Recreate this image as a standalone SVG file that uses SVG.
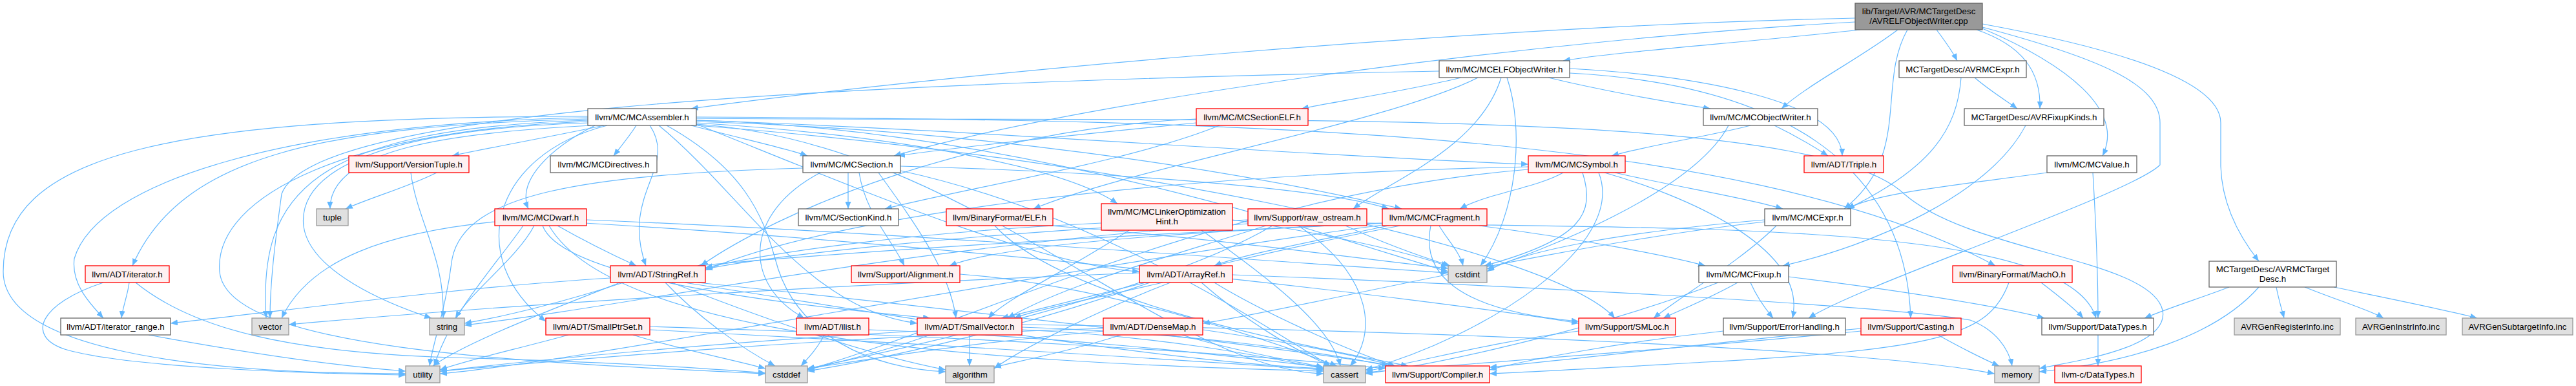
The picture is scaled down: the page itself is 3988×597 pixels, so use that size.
<svg xmlns="http://www.w3.org/2000/svg" width="3988" height="597" viewBox="0 0 3988 597">
<style>
text{font-family:"Liberation Sans",Arial,sans-serif;font-size:13.3px;text-anchor:middle;fill:#000}
.n rect{fill:#fff;stroke:#666;stroke-width:1.3}
.r rect{fill:#fff0f0;stroke:#f00;stroke-width:1.3}
.g rect{fill:#e0e0e0;stroke:#999;stroke-width:1.3}
.root rect{fill:#999;stroke:#666;stroke-width:1.3}
#edges path{fill:none;stroke:#63b8ff;stroke-width:1.2;marker-end:url(#a)}
</style>
<defs>
<marker id="a" markerWidth="11" markerHeight="9" refX="11" refY="4.5" orient="auto" markerUnits="userSpaceOnUse"><path d="M0,0 L11,4.5 L0,9 z" fill="#63b8ff"/></marker>
</defs>
<rect width="3988" height="597" fill="#fff"/>
<g id="edges">
<path d="M2880,46 C2700,66 2500,80 2420,94"/>
<path d="M2998,46 C3010,62 3022,78 3030,94"/>
<path d="M2938,46 C2880,90 2800,130 2758,168"/>
<path d="M3060,46 C3130,70 3160,110 3158,168"/>
<path d="M3069,44 C3200,100 3290,170 3255,241"/>
<path d="M3069,37 C3250,70 3438,120 3438,190 L3438,257 C3440,320 3470,370 3497,404"/>
<path d="M3069,42 C3250,90 3344,130 3344,190 L3344,255 C3300,300 2880,440 2800,492"/>
<path d="M2953,46 C2905,130 2960,240 2855,323"/>
<path d="M2872,28 C2300,40 1500,110 1070,168"/>
<path d="M2872,34 C2400,60 1700,150 1384,241"/>
<path d="M2262,120 C2180,140 2080,155 2015,168"/>
<path d="M2397,120 C2480,140 2580,158 2648,168"/>
<path d="M2333,120 C2360,200 2350,330 2292,411"/>
<path d="M2324,120 C2290,230 2150,280 2095,323"/>
<path d="M2288,120 C2150,190 1750,260 1600,323"/>
<path d="M2228,110 C1200,130 480,175 436,300 C425,380 418,440 418,492"/>
<path d="M2430,106 C2600,115 2850,150 2852,241"/>
<path d="M2430,113 C2750,130 2950,250 2958,492"/>
<path d="M3057,120 C3080,140 3105,155 3123,168"/>
<path d="M3036,120 C3030,200 2990,260 2860,323"/>
<path d="M2747,194 C2780,210 2810,228 2830,241"/>
<path d="M2710,194 C2650,210 2550,225 2495,241"/>
<path d="M2676,194 C2620,300 2380,390 2302,416"/>
<path d="M3136,194 C3080,300 2900,380 2760,411"/>
<path d="M1852,190 C1700,205 1500,225 1390,241"/>
<path d="M1888,194 C1750,250 1500,290 1370,323"/>
<path d="M1852,184 C1500,200 1200,330 1085,411"/>
<path d="M935,194 C860,210 760,228 700,241"/>
<path d="M985,194 C975,210 960,228 950,241"/>
<path d="M921,194 C850,230 800,280 818,323"/>
<path d="M1006,194 C1050,260 960,300 1000,411"/>
<path d="M940,194 C760,240 720,400 845,497"/>
<path d="M910,184 C500,195 280,240 205,411"/>
<path d="M910,182 C450,190 150,280 115,400 C110,440 140,470 160,492"/>
<path d="M910,180 C250,180 5,240 5,420 C5,540 300,578 628,578"/>
<path d="M910,186 C480,200 400,300 412,492"/>
<path d="M915,194 C700,205 510,230 511,323"/>
<path d="M912,190 C600,200 460,260 470,350 C480,420 600,470 668,492"/>
<path d="M910,188 C550,200 330,300 340,420 C350,540 800,560 1185,578"/>
<path d="M1032,194 C1150,260 1180,330 1200,400 C1230,520 1350,570 1464,575"/>
<path d="M1020,194 C1150,300 1250,480 1420,500"/>
<path d="M1078,192 C1500,220 1800,570 2049,578"/>
<path d="M1078,186 C1600,200 2100,380 2242,420"/>
<path d="M1078,183 C1900,190 2800,160 2948,300 C3050,390 3330,400 3348,480 C3360,540 3200,560 3157,570"/>
<path d="M1078,181 C1900,185 2700,200 3089,411"/>
<path d="M1078,194 C1700,240 2400,380 2500,492"/>
<path d="M1078,188 C1500,200 1900,260 2170,323"/>
<path d="M1078,190 C1400,210 1650,260 1730,315"/>
<path d="M1078,192 C1300,280 1600,410 1764,420"/>
<path d="M1078,186 C1500,200 2000,240 2366,254"/>
<path d="M1070,194 C1150,215 1220,230 1250,241"/>
<path d="M676,267 C630,290 575,305 535,323"/>
<path d="M636,267 C645,340 690,400 686,492"/>
<path d="M1313,267 C1313,290 1313,300 1313,323"/>
<path d="M1270,267 C1150,330 1150,440 1245,492"/>
<path d="M1394,257 C1700,265 2050,290 2150,323"/>
<path d="M1330,267 C1340,330 1380,370 1400,411"/>
<path d="M1360,267 C1420,350 1470,420 1480,492"/>
<path d="M1394,264 C1700,330 1950,500 2060,566"/>
<path d="M1243,260 C900,270 720,300 700,400 C690,480 670,530 665,566"/>
<path d="M2420,267 C2380,290 2300,300 2260,323"/>
<path d="M2500,267 C2600,290 2700,305 2760,323"/>
<path d="M2484,267 C2600,300 2800,380 2775,492"/>
<path d="M2450,267 C2470,330 2450,370 2298,411"/>
<path d="M2475,267 C2520,380 2300,520 2114,572"/>
<path d="M2366,262 C1900,300 1500,500 1250,572"/>
<path d="M2366,258 C1800,270 1300,330 1092,418"/>
<path d="M3169,267 C3000,290 2900,300 2860,323"/>
<path d="M3240,267 C3245,350 3248,420 3248,492"/>
<path d="M863,349 C900,370 950,395 985,411"/>
<path d="M827,349 C800,400 730,450 705,492"/>
<path d="M766,343 C600,360 480,400 436,492"/>
<path d="M810,349 C760,420 700,480 672,566"/>
<path d="M840,349 C870,430 1200,470 1440,492"/>
<path d="M850,349 C950,520 1500,560 2049,574"/>
<path d="M908,340 C1400,360 1900,400 2242,422"/>
<path d="M905,345 C1500,380 2200,460 2444,500"/>
<path d="M1626,349 C1900,370 2100,400 2242,415"/>
<path d="M1540,349 C1650,470 2050,540 2180,566"/>
<path d="M1748,356 C1650,420 1560,460 1530,492"/>
<path d="M1705,345 C1400,360 1200,390 1092,414"/>
<path d="M1860,356 C1950,420 2060,500 2075,566"/>
<path d="M1908,340 C2050,360 2180,390 2242,412"/>
<path d="M1960,349 C1800,400 1650,440 1560,492"/>
<path d="M1932,340 C1500,360 1200,395 1092,416"/>
<path d="M2116,345 C2600,355 3200,340 3245,492"/>
<path d="M2010,349 C2130,430 2130,520 2090,566"/>
<path d="M1970,349 C1800,450 1400,540 1250,570"/>
<path d="M2083,349 C2150,380 2210,400 2245,411"/>
<path d="M1932,346 C1400,380 1000,470 719,503"/>
<path d="M2228,349 C2240,370 2260,390 2265,411"/>
<path d="M2215,349 C2200,420 2250,480 2444,497"/>
<path d="M2290,349 C2450,370 2580,395 2640,411"/>
<path d="M2150,349 C2000,380 1920,395 1880,411"/>
<path d="M2168,349 C1900,400 1650,470 1550,492"/>
<path d="M2140,345 C1600,370 1250,395 1080,411"/>
<path d="M2150,345 C1800,360 1550,380 1470,411"/>
<path d="M2140,348 C1600,420 900,560 681,578"/>
<path d="M2732,343 C2400,380 2000,480 1862,500"/>
<path d="M2750,349 C2700,400 2600,460 2560,492"/>
<path d="M2732,340 C2500,360 2350,390 2302,420"/>
<path d="M200,437 C198,455 190,475 188,492"/>
<path d="M160,437 C60,470 40,520 100,540 C200,570 500,578 628,580"/>
<path d="M210,437 C300,510 450,545 700,553 C950,560 1100,570 1185,577"/>
<path d="M945,430 C700,445 450,480 264,500"/>
<path d="M965,437 C880,465 780,490 719,500"/>
<path d="M960,437 C850,480 720,530 670,566"/>
<path d="M1030,437 C1080,490 1150,540 1200,566"/>
<path d="M1040,437 C1200,500 1350,550 1464,572"/>
<path d="M1060,437 C1400,490 1800,560 2049,570"/>
<path d="M1080,437 C1500,480 2000,540 2160,566"/>
<path d="M1486,424 C1700,440 1950,520 2070,566"/>
<path d="M1800,437 C1700,460 1600,480 1570,492"/>
<path d="M1812,437 C1700,480 1580,540 1539,570"/>
<path d="M1908,425 C2300,440 2900,470 3050,495 C3090,510 3110,540 3115,566"/>
<path d="M1880,437 C1950,480 2080,540 2160,566"/>
<path d="M1860,437 C1920,490 2000,540 2060,566"/>
<path d="M1780,437 C1600,500 1400,550 1250,574"/>
<path d="M1764,422 C1300,440 800,470 447,502"/>
<path d="M2710,437 C2720,460 2735,480 2745,492"/>
<path d="M2769,428 C2950,450 3100,475 3165,492"/>
<path d="M2690,437 C2650,460 2600,480 2575,492"/>
<path d="M2660,437 C2500,500 2250,560 2114,578"/>
<path d="M3160,437 C3190,460 3215,480 3225,492"/>
<path d="M3110,437 C3080,520 3000,540 2640,560 C2500,568 2400,574 2306,578"/>
<path d="M3451,444 C3410,460 3360,475 3320,492"/>
<path d="M3497,444 C3430,520 3300,560 3157,575"/>
<path d="M3524,444 C3528,465 3533,480 3536,492"/>
<path d="M3568,444 C3620,465 3670,480 3690,492"/>
<path d="M3613,444 C3700,462 3790,480 3835,492"/>
<path d="M2668,512 C2500,530 2350,560 2306,572"/>
<path d="M3000,518 C3040,540 3070,555 3095,566"/>
<path d="M2881,512 C2600,540 2300,560 2114,576"/>
<path d="M2881,508 C2650,530 2400,560 2306,568"/>
<path d="M2444,512 C2300,530 2200,560 2114,574"/>
<path d="M3248,518 L3248,566"/>
<path d="M230,518 C350,540 500,565 628,574"/>
<path d="M880,518 C800,540 730,555 681,572"/>
<path d="M980,518 C1050,540 1130,555 1185,570"/>
<path d="M1006,510 C1400,530 1800,555 2049,572"/>
<path d="M1006,505 C1500,520 1900,545 2145,570"/>
<path d="M1276,518 C1265,540 1250,555 1240,566"/>
<path d="M1345,510 C1650,520 1900,550 2049,568"/>
<path d="M1501,518 L1501,566"/>
<path d="M1440,518 C1380,540 1300,560 1250,572"/>
<path d="M1420,512 C1100,530 800,560 681,574"/>
<path d="M1582,510 C1800,520 1950,550 2049,570"/>
<path d="M1582,506 C1850,515 2050,545 2150,566"/>
<path d="M1582,502 C2200,510 2900,540 3088,578"/>
<path d="M1735,518 C1670,540 1580,558 1539,568"/>
<path d="M1830,518 C1900,540 2000,558 2049,568"/>
<path d="M1862,510 C2000,530 2100,550 2160,566"/>
<path d="M1708,512 C1500,530 1350,555 1250,570"/>
<path d="M1708,508 C1300,520 900,555 681,574"/>
</g>
<g id="root" class="root"><rect x="2872" y="5" width="197" height="41"/><text x="2970.5" y="22">lib/Target/AVR/MCTargetDesc</text><text x="2970.5" y="37">/AVRELFObjectWriter.cpp</text></g>
<g id="MCELFObjectWriter" class="n"><rect x="2228" y="94" width="202" height="26"/><text x="2329" y="112">llvm/MC/MCELFObjectWriter.h</text></g>
<g id="AVRMCExpr" class="n"><rect x="2940" y="94" width="197" height="26"/><text x="3038.5" y="112">MCTargetDesc/AVRMCExpr.h</text></g>
<g id="MCAssembler" class="n"><rect x="910" y="168" width="168" height="26"/><text x="994" y="186">llvm/MC/MCAssembler.h</text></g>
<g id="MCSectionELF" class="r"><rect x="1852" y="168" width="173" height="26"/><text x="1938.5" y="186">llvm/MC/MCSectionELF.h</text></g>
<g id="MCObjectWriter" class="n"><rect x="2637" y="168" width="177" height="26"/><text x="2725.5" y="186">llvm/MC/MCObjectWriter.h</text></g>
<g id="AVRFixupKinds" class="n"><rect x="3041" y="168" width="216" height="26"/><text x="3149" y="186">MCTargetDesc/AVRFixupKinds.h</text></g>
<g id="VersionTuple" class="r"><rect x="540" y="241" width="186" height="26"/><text x="633" y="259">llvm/Support/VersionTuple.h</text></g>
<g id="MCDirectives" class="n"><rect x="852" y="241" width="165" height="26"/><text x="934.5" y="259">llvm/MC/MCDirectives.h</text></g>
<g id="MCSection" class="n"><rect x="1243" y="241" width="151" height="26"/><text x="1318.5" y="259">llvm/MC/MCSection.h</text></g>
<g id="MCSymbol" class="r"><rect x="2366" y="241" width="150" height="26"/><text x="2441" y="259">llvm/MC/MCSymbol.h</text></g>
<g id="Triple" class="r"><rect x="2793" y="241" width="123" height="26"/><text x="2854.5" y="259">llvm/ADT/Triple.h</text></g>
<g id="MCValue" class="n"><rect x="3169" y="241" width="139" height="26"/><text x="3238.5" y="259">llvm/MC/MCValue.h</text></g>
<g id="tuple" class="g"><rect x="490" y="323" width="49" height="26"/><text x="514.5" y="341">tuple</text></g>
<g id="MCDwarf" class="r"><rect x="766" y="323" width="142" height="26"/><text x="837" y="341">llvm/MC/MCDwarf.h</text></g>
<g id="SectionKind" class="n"><rect x="1236" y="323" width="155" height="26"/><text x="1313.5" y="341">llvm/MC/SectionKind.h</text></g>
<g id="ELF" class="r"><rect x="1465" y="323" width="165" height="26"/><text x="1547.5" y="341">llvm/BinaryFormat/ELF.h</text></g>
<g id="MCLinkerOptimizationHint" class="r"><rect x="1705" y="315" width="203" height="41"/><text x="1806.5" y="332">llvm/MC/MCLinkerOptimization</text><text x="1806.5" y="347">Hint.h</text></g>
<g id="raw_ostream" class="r"><rect x="1932" y="323" width="184" height="26"/><text x="2024" y="341">llvm/Support/raw_ostream.h</text></g>
<g id="MCFragment" class="r"><rect x="2140" y="323" width="162" height="26"/><text x="2221" y="341">llvm/MC/MCFragment.h</text></g>
<g id="MCExpr" class="n"><rect x="2732" y="323" width="133" height="26"/><text x="2798.5" y="341">llvm/MC/MCExpr.h</text></g>
<g id="iterator" class="r"><rect x="132" y="411" width="130" height="26"/><text x="197" y="429">llvm/ADT/iterator.h</text></g>
<g id="StringRef" class="r"><rect x="945" y="411" width="147" height="26"/><text x="1018.5" y="429">llvm/ADT/StringRef.h</text></g>
<g id="Alignment" class="r"><rect x="1318" y="411" width="168" height="26"/><text x="1402" y="429">llvm/Support/Alignment.h</text></g>
<g id="ArrayRef" class="r"><rect x="1764" y="411" width="144" height="26"/><text x="1836" y="429">llvm/ADT/ArrayRef.h</text></g>
<g id="cstdint" class="g"><rect x="2242" y="411" width="60" height="26"/><text x="2272" y="429">cstdint</text></g>
<g id="MCFixup" class="n"><rect x="2630" y="411" width="139" height="26"/><text x="2699.5" y="429">llvm/MC/MCFixup.h</text></g>
<g id="MachO" class="r"><rect x="3023" y="411" width="185" height="26"/><text x="3115.5" y="429">llvm/BinaryFormat/MachO.h</text></g>
<g id="AVRMCTargetDesc" class="n"><rect x="3420" y="404" width="197" height="40"/><text x="3518.5" y="421">MCTargetDesc/AVRMCTarget</text><text x="3518.5" y="436">Desc.h</text></g>
<g id="iterator_range" class="n"><rect x="94" y="492" width="170" height="26"/><text x="179" y="510">llvm/ADT/iterator_range.h</text></g>
<g id="vector" class="g"><rect x="390" y="492" width="57" height="26"/><text x="418.5" y="510">vector</text></g>
<g id="string" class="g"><rect x="665" y="492" width="54" height="26"/><text x="692" y="510">string</text></g>
<g id="SmallPtrSet" class="r"><rect x="845" y="492" width="161" height="26"/><text x="925.5" y="510">llvm/ADT/SmallPtrSet.h</text></g>
<g id="ilist" class="r"><rect x="1233" y="492" width="112" height="26"/><text x="1289" y="510">llvm/ADT/ilist.h</text></g>
<g id="SmallVector" class="r"><rect x="1420" y="492" width="162" height="26"/><text x="1501" y="510">llvm/ADT/SmallVector.h</text></g>
<g id="DenseMap" class="r"><rect x="1708" y="492" width="154" height="26"/><text x="1785" y="510">llvm/ADT/DenseMap.h</text></g>
<g id="SMLoc" class="r"><rect x="2444" y="492" width="150" height="26"/><text x="2519" y="510">llvm/Support/SMLoc.h</text></g>
<g id="ErrorHandling" class="n"><rect x="2668" y="492" width="189" height="26"/><text x="2762.5" y="510">llvm/Support/ErrorHandling.h</text></g>
<g id="Casting" class="r"><rect x="2881" y="492" width="155" height="26"/><text x="2958.5" y="510">llvm/Support/Casting.h</text></g>
<g id="SupportDataTypes" class="n"><rect x="3161" y="492" width="173" height="26"/><text x="3247.5" y="510">llvm/Support/DataTypes.h</text></g>
<g id="AVRGenRegisterInfo" class="g"><rect x="3459" y="492" width="164" height="26"/><text x="3541" y="510">AVRGenRegisterInfo.inc</text></g>
<g id="AVRGenInstrInfo" class="g"><rect x="3647" y="492" width="140" height="26"/><text x="3717" y="510">AVRGenInstrInfo.inc</text></g>
<g id="AVRGenSubtargetInfo" class="g"><rect x="3812" y="492" width="171" height="26"/><text x="3897.5" y="510">AVRGenSubtargetInfo.inc</text></g>
<g id="utility" class="g"><rect x="628" y="566" width="53" height="26"/><text x="654.5" y="584">utility</text></g>
<g id="cstddef" class="g"><rect x="1185" y="566" width="65" height="26"/><text x="1217.5" y="584">cstddef</text></g>
<g id="algorithm" class="g"><rect x="1464" y="566" width="75" height="26"/><text x="1501.5" y="584">algorithm</text></g>
<g id="cassert" class="g"><rect x="2049" y="566" width="65" height="26"/><text x="2081.5" y="584">cassert</text></g>
<g id="Compiler" class="r"><rect x="2145" y="566" width="161" height="26"/><text x="2225.5" y="584">llvm/Support/Compiler.h</text></g>
<g id="memory" class="g"><rect x="3088" y="566" width="69" height="26"/><text x="3122.5" y="584">memory</text></g>
<g id="llvm-c-DataTypes" class="r"><rect x="3181" y="566" width="134" height="26"/><text x="3248" y="584">llvm-c/DataTypes.h</text></g>
</svg>
